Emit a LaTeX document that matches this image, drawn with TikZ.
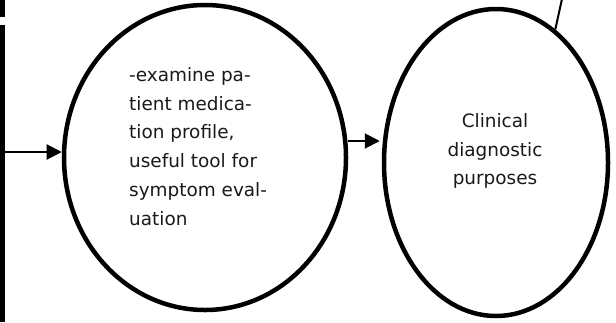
\documentclass[tikz,border=0pt]{standalone}
\usepackage{fontspec}
\setmainfont{DejaVu Sans}
\usetikzlibrary{shapes.geometric,arrows.meta}
\tikzset{
  bubble/.style={ellipse,draw,line width=4.5bp,inner sep=0pt},
  txt/.style={font=\fontsize{18.5}{29}\selectfont,inner sep=0pt,text=black!90},
  conn/.style={line width=2bp,-{Triangle[length=15bp,width=15bp]}},
}
\begin{document}
\begin{tikzpicture}[x=1bp,y=-1bp]
\useasboundingbox (0,0) rectangle (616,322);
% left bar
\fill (0,0) rectangle (4.5,17);
\fill (0,25) rectangle (5,322);
% ellipses
\node[bubble,minimum width=282bp,minimum height=305bp] (e1) at (205,157.5) {};
\node[bubble,minimum width=224bp,minimum height=307bp] (e2) at (496,162.5) {};
% texts
\node[txt,align=left,anchor=north west] (t1) at (129,67)
  {-examine pa-\\tient medica-\\tion profile,\\useful tool for\\symptom eval-\\uation};
\node[txt,align=center] (t2) at (495,151) {Clinical\\diagnostic\\purposes};
% connectors
\coordinate (src) at (5,152);
\coordinate (a2) at (347,141);
\coordinate (topend) at (562,-1);
\draw[conn] (src) -- (src -| e1.west);
\draw[conn] (a2 -| e1.east) -- ([xshift=-2bp]a2 -| e2.west);
\draw[line width=2bp] (e2.66.8) -- (topend);
\end{tikzpicture}
\end{document}
